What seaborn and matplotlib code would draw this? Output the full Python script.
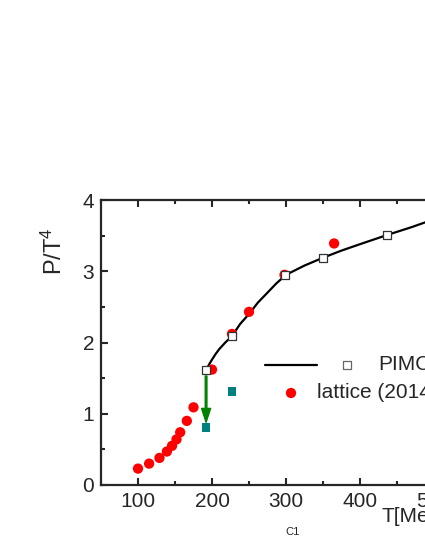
import matplotlib
matplotlib.use("Agg")
import matplotlib.pyplot as plt
import seaborn as sns

# lattice data (red circles)
lat_T = [100, 115, 129, 139, 146, 152, 157, 166, 175, 200, 227, 250, 298, 365]
lat_P = [0.23, 0.30, 0.38, 0.47, 0.55, 0.64, 0.74, 0.90, 1.09, 1.62, 2.12, 2.43, 2.95, 3.39]

# PIMC results (open squares)
pimc_T = [192, 227, 299, 350, 437]
pimc_P = [1.61, 2.09, 2.95, 3.19, 3.51]

# curve through PIMC points
fit_T = [192, 196, 200, 205, 210, 218, 227, 238, 250, 262, 275, 287, 300, 325, 350, 375, 400, 437, 470, 500]
fit_P = [1.61, 1.69, 1.76, 1.84, 1.91, 2.00, 2.09, 2.26, 2.40, 2.56, 2.70, 2.83, 2.95, 3.08, 3.19, 3.29, 3.38, 3.51, 3.62, 3.73]

# teal squares
teal_T = [192, 227]
teal_P = [0.81, 1.31]

sns.set_style("ticks")
plt.rcParams["font.family"] = ["Liberation Sans", "DejaVu Sans"]
plt.rcParams["mathtext.fontset"] = "custom"
plt.rcParams["mathtext.rm"] = "Liberation Sans"
plt.rcParams["mathtext.it"] = "Liberation Sans"

fig = plt.figure(figsize=(4.25, 5.5), dpi=100)
ax = fig.add_axes([101 / 425, 65 / 550, 407 / 425, 285 / 550])

sns.lineplot(x=fit_T, y=fit_P, ax=ax, color="black", lw=1.6, sort=False, zorder=2)
sns.scatterplot(x=lat_T, y=lat_P, ax=ax, color="red", s=55, edgecolor="none", zorder=3)
sns.scatterplot(x=pimc_T, y=pimc_P, ax=ax, marker="s", s=38, facecolor="white",
                edgecolor="#333333", linewidth=0.9, zorder=4)
sns.scatterplot(x=teal_T, y=teal_P, ax=ax, marker="s", s=40, color="#008080",
                edgecolor="none", zorder=4)

ax.annotate("", xy=(pimc_T[0], teal_P[0] + 0.07), xytext=(pimc_T[0], pimc_P[0] - 0.08),
            arrowprops=dict(facecolor="green", edgecolor="green", width=1.2,
                            headwidth=6.5, headlength=10))

ax.set_xlim(50, 600)
ax.set_ylim(0, 4)
ax.set_xticks([100, 200, 300, 400, 500])
ax.set_xticks([50, 150, 250, 350, 450, 550], minor=True)
ax.set_yticks([0, 1, 2, 3, 4])
ax.set_yticks([0.5, 1.5, 2.5, 3.5], minor=True)
ax.tick_params(which="both", direction="in", top=True, right=True, width=1.5,
               labelsize=15, pad=5)
ax.tick_params(which="major", length=5)
ax.tick_params(which="minor", length=3)
for s in ax.spines.values():
    s.set_linewidth(1.6)

ax.set_ylabel("P/T$^4$", fontsize=17)
ax.yaxis.set_label_coords(-0.083, 0.82)
ax.set_xlabel("")
fig.text(381 / 425, 1 - 522 / 550, "T[MeV]", fontsize=15, ha="left", va="baseline")
fig.text(293 / 425, 1 - 532 / 550, "C1", fontsize=8, ha="center", va="center")

# legend drawn Origin-style
ax.plot([(265 - 101) / 407, (317 - 101) / 407], [(485 - 365) / 285] * 2,
        transform=ax.transAxes, color="black", lw=1.6, clip_on=False)
ax.scatter([(347 - 101) / 407], [(485 - 365) / 285], transform=ax.transAxes,
           marker="s", s=38, facecolor="white", edgecolor="#666666", linewidth=0.9)
ax.text((378 - 101) / 407, (485 - 365) / 285, "PIMC", transform=ax.transAxes,
        fontsize=15, va="center", ha="left")
ax.scatter([(291 - 101) / 407], [(485 - 393) / 285], transform=ax.transAxes,
           s=55, color="red", edgecolor="none")
ax.text((317 - 101) / 407, (485 - 393) / 285, "lattice (2014)", transform=ax.transAxes,
        fontsize=15, va="center", ha="left")

fig.savefig("out.png", dpi=100)
